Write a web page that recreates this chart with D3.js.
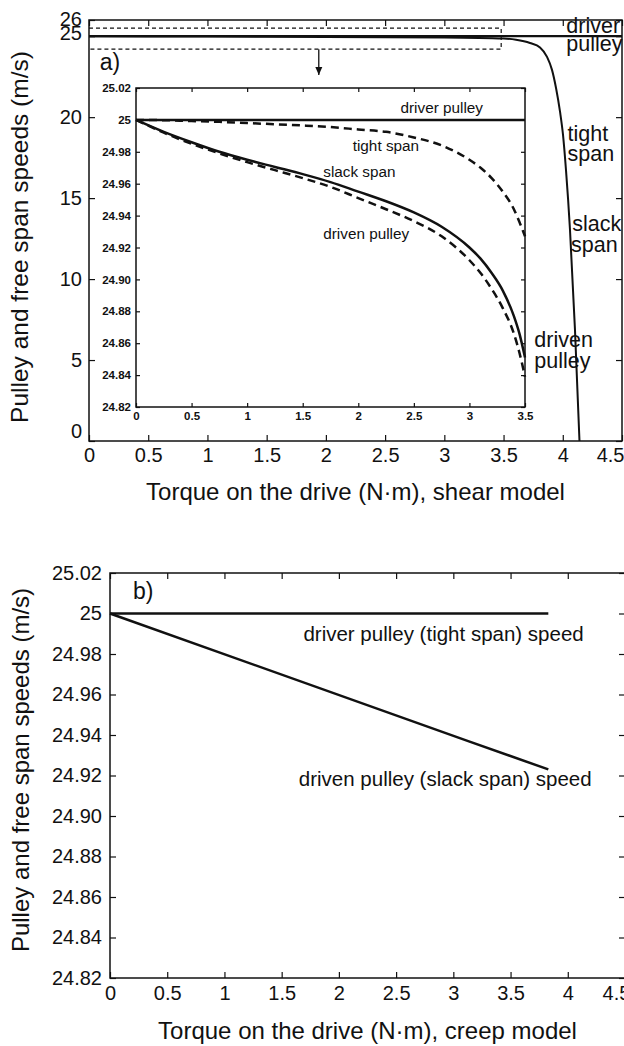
<!DOCTYPE html>
<meta charset="utf-8">
<script src="https://d3js.org/d3.v7.min.js"></script>
<style>
  body { margin: 0; background: #fff; }
  svg text { font-family: "Liberation Sans", Arial, Helvetica, sans-serif; fill: #111; }
  .domain { display: none; }
  .tick line { stroke: #111; stroke-width: 1.2; }
</style>
<div id="chart"></div>
<script>
// ---- panel a (shear model), full range
var shearTicksX = [0, 0.5, 1, 1.5, 2, 2.5, 3, 3.5, 4, 4.5];
var shearTicksY = [0, 5, 10, 15, 20, 25, 26];
var mainTorque  = [0, 4.5];
var mainDriver  = [25, 25];
var fallTorque  = [0, 1, 2, 3, 3.5, 3.605, 3.723, 3.808, 3.867, 3.909, 3.943, 3.977, 4.002, 4.027, 4.061, 4.103, 4.141];
var fallSpeed   = [25, 24.975, 24.955, 24.92, 24.85, 24.78, 24.58, 24.3, 23.72, 22.92, 21.8, 20.32, 18.9, 16.74, 13.03, 6.86, 0];

// ---- panel a inset (zoom on 24.82..25.02)
var insetTicksX = [0, 0.5, 1, 1.5, 2, 2.5, 3, 3.5];
var insetTicksY = [24.82, 24.84, 24.86, 24.88, 24.90, 24.92, 24.94, 24.96, 24.98, 25, 25.02];
var insetTorque = [0, 0.25, 0.5, 0.75, 1, 1.25, 1.5, 1.75, 2, 2.25, 2.5, 2.75, 3, 3.1, 3.2, 3.3, 3.4, 3.45, 3.5];
var insetTight  = [25, 24.9998, 24.9993, 24.9988, 24.998, 24.9973, 24.9965, 24.9955, 24.994, 24.9925, 24.989, 24.984, 24.975, 24.970, 24.9635, 24.955, 24.944, 24.936, 24.927];
var insetSlack  = [25, 24.9925, 24.986, 24.980, 24.975, 24.9705, 24.966, 24.961, 24.955, 24.949, 24.942, 24.933, 24.920, 24.913, 24.904, 24.893, 24.877, 24.866, 24.851];
var insetDriven = [25, 24.992, 24.985, 24.979, 24.9735, 24.9685, 24.9635, 24.958, 24.951, 24.944, 24.9365, 24.927, 24.912, 24.904, 24.894, 24.882, 24.866, 24.854, 24.839];
var insetDriverX = [0, 3.5];
var insetDriver  = [25, 25];

// ---- panel b (creep model)
var creepTicksX  = [0, 0.5, 1, 1.5, 2, 2.5, 3, 3.5, 4, 4.5];
var creepTicksY  = [24.82, 24.84, 24.86, 24.88, 24.90, 24.92, 24.94, 24.96, 24.98, 25, 25.02];
var creepTorque  = [0, 3.13, 3.83];
var creepDriver  = [25, 25, 25];
var creepDriven  = [25, 24.937, 24.923];

var W = 624, H = 1046;
var svg = d3.select("#chart").append("svg").attr("width", W).attr("height", H);

function fmt2(d) { return d === 25 ? "25" : d.toFixed(2); }

function pts(xs, ys) { return xs.map(function(d, i) { return [d, ys[i]]; }); }

// box with inward ticks on all four sides, returns bottom and left axis groups
function frame(g, x, y, tx, ty, fmtX, fmtY, tick, fs, pad) {
  var x0 = x.range()[0], x1 = x.range()[1], y0 = y.range()[0], y1 = y.range()[1];
  var bx = g.append("g").attr("transform", "translate(0," + y0 + ")")
    .call(d3.axisBottom(x).tickValues(tx).tickSize(-tick).tickPadding(pad).tickFormat(fmtX));
  var ly = g.append("g").attr("transform", "translate(" + x0 + ",0)")
    .call(d3.axisLeft(y).tickValues(ty).tickSize(-tick).tickPadding(pad).tickFormat(fmtY));
  g.append("g").attr("transform", "translate(0," + y1 + ")")
    .call(d3.axisTop(x).tickValues(tx).tickSize(-tick).tickFormat(""));
  g.append("g").attr("transform", "translate(" + x1 + ",0)")
    .call(d3.axisRight(y).tickValues(ty).tickSize(-tick).tickFormat(""));
  g.selectAll(".tick text").attr("fill", "#111").style("font-size", fs + "px");
  g.append("rect").attr("x", x0).attr("y", y1).attr("width", x1 - x0).attr("height", y0 - y1)
    .attr("fill", "none").attr("stroke", "#111").attr("stroke-width", 1.5);
  return { bottom: bx, left: ly };
}

// ================= panel a =================
var xa = d3.scaleLinear().domain([0, 4.5]).range([89, 622]);
var ya = d3.scaleLinear().domain([0, 26]).range([441, 20]);
var ga = svg.append("g");
var axA = frame(ga, xa, ya, shearTicksX, shearTicksY, String, String, 6, 20, 7);
axA.left.selectAll(".tick text").filter(function(d) { return d === 0; }).attr("dy", "-0.2em");
axA.left.selectAll(".tick text").filter(function(d) { return d === 25; }).attr("dy", "0.15em");
axA.left.selectAll(".tick text").filter(function(d) { return d === 26; }).attr("dy", "0.28em");
axA.bottom.selectAll(".tick text").filter(function(d) { return d === 4.5; }).attr("text-anchor", "end").attr("dx", "0.1em");

var lineA = d3.line().x(function(d) { return xa(d[0]); }).y(function(d) { return ya(d[1]); });
ga.append("path").datum(pts(mainTorque, mainDriver)).attr("d", lineA)
  .attr("fill", "none").attr("stroke", "#111").attr("stroke-width", 2.2);
ga.append("path").datum(pts(fallTorque, fallSpeed)).attr("d", lineA.curve(d3.curveMonotoneX))
  .attr("fill", "none").attr("stroke", "#111").attr("stroke-width", 2);

// zoom box and arrow
ga.append("path")
  .attr("d", "M" + xa(0) + "," + ya(25.5) + "H" + xa(3.48) + "V" + ya(24.2) + "H" + xa(0))
  .attr("fill", "none").attr("stroke", "#111").attr("stroke-width", 1.2).attr("stroke-dasharray", "4,3");
ga.append("line").attr("x1", xa(1.94)).attr("x2", xa(1.94)).attr("y1", ya(24.2)).attr("y2", ya(22.6))
  .attr("stroke", "#111").attr("stroke-width", 1.3);
ga.append("path")
  .attr("d", "M" + (xa(1.94) - 3.5) + "," + (ya(22.6) - 8) + "L" + (xa(1.94) + 3.5) + "," + (ya(22.6) - 8) + "L" + xa(1.94) + "," + ya(22.6) + "Z")
  .attr("fill", "#111");

ga.append("text").attr("x", xa(0.09)).attr("y", ya(22.9)).style("font-size", "23px").text("a)");

var sideLabels = [
  ["driver", 4.03, 25.2], ["pulley", 4.03, 24.1],
  ["tight", 4.04, 18.5], ["span", 4.04, 17.3],
  ["slack", 4.08, 13.0], ["span", 4.07, 11.7],
  ["driven", 3.76, 5.8], ["pulley", 3.76, 4.5]
];
ga.selectAll(".side").data(sideLabels).enter().append("text")
  .attr("x", function(d) { return xa(d[1]); }).attr("y", function(d) { return ya(d[2]); })
  .style("font-size", "21.5px").text(function(d) { return d[0]; });

ga.append("text").attr("x", (xa(0) + xa(4.5)) / 2).attr("y", 500).attr("text-anchor", "middle")
  .style("font-size", "24px").text("Torque on the drive (N\u00b7m), shear model");
ga.append("text").attr("transform", "translate(28,237) rotate(-90)").attr("text-anchor", "middle")
  .style("font-size", "24.5px").text("Pulley and free span speeds (m/s)");

// ---- inset
var xi = d3.scaleLinear().domain([0, 3.5]).range([136, 525]);
var yi = d3.scaleLinear().domain([24.82, 25.02]).range([407, 88]);
var gi = svg.append("g");
gi.append("rect").attr("x", 136).attr("y", 88).attr("width", 389).attr("height", 319).attr("fill", "#fff");
frame(gi, xi, yi, insetTicksX, insetTicksY, String, fmt2, 4, 11.5, 5);
gi.selectAll(".tick text").style("font-weight", "bold");

var lineI = d3.line().x(function(d) { return xi(d[0]); }).y(function(d) { return yi(d[1]); }).curve(d3.curveMonotoneX);
gi.append("path").datum(pts(insetDriverX, insetDriver)).attr("d", lineI)
  .attr("fill", "none").attr("stroke", "#111").attr("stroke-width", 2.5);
gi.append("path").datum(pts(insetTorque, insetSlack)).attr("d", lineI)
  .attr("fill", "none").attr("stroke", "#111").attr("stroke-width", 2.5);
gi.append("path").datum(pts(insetTorque, insetTight)).attr("d", lineI)
  .attr("fill", "none").attr("stroke", "#111").attr("stroke-width", 2.5).attr("stroke-dasharray", "8,5");
gi.append("path").datum(pts(insetTorque, insetDriven)).attr("d", lineI)
  .attr("fill", "none").attr("stroke", "#111").attr("stroke-width", 2.5).attr("stroke-dasharray", "8,5");

var insetLabels = [
  ["driver pulley", 2.38, 25.0044], ["tight span", 1.95, 24.9806],
  ["slack span", 1.685, 24.9643], ["driven pulley", 1.685, 24.9254]
];
gi.selectAll(".il").data(insetLabels).enter().append("text")
  .attr("x", function(d) { return xi(d[1]); }).attr("y", function(d) { return yi(d[2]); })
  .style("font-size", "15.3px").text(function(d) { return d[0]; });

// ================= panel b =================
var xb = d3.scaleLinear().domain([0, 4.5]).range([110, 625]);
var yb = d3.scaleLinear().domain([24.82, 25.02]).range([978, 573]);
var gb = svg.append("g");
var axB = frame(gb, xb, yb, creepTicksX, creepTicksY, String, fmt2, 6, 20, 8);
axB.bottom.selectAll(".tick text").filter(function(d) { return d === 4.5; }).attr("dx", "-0.45em");

var lineB = d3.line().x(function(d) { return xb(d[0]); }).y(function(d) { return yb(d[1]); });
gb.append("path").datum(pts(creepTorque, creepDriver)).attr("d", lineB)
  .attr("fill", "none").attr("stroke", "#111").attr("stroke-width", 2.5);
gb.append("path").datum(pts(creepTorque, creepDriven)).attr("d", lineB)
  .attr("fill", "none").attr("stroke", "#111").attr("stroke-width", 2.5);

gb.append("text").attr("x", xb(0.2)).attr("y", yb(25.0074)).style("font-size", "23px").text("b)");
gb.append("text").attr("x", xb(1.69)).attr("y", yb(24.9862)).style("font-size", "20.5px")
  .text("driver pulley (tight span) speed");
gb.append("text").attr("x", xb(1.65)).attr("y", yb(24.9148)).style("font-size", "20.5px")
  .text("driven pulley (slack span) speed");

gb.append("text").attr("x", (xb(0) + xb(4.5)) / 2).attr("y", 1039).attr("text-anchor", "middle")
  .style("font-size", "24px").text("Torque on the drive (N\u00b7m), creep model");
gb.append("text").attr("transform", "translate(29,770) rotate(-90)").attr("text-anchor", "middle")
  .style("font-size", "24px").text("Pulley and free span speeds (m/s)");
</script>
